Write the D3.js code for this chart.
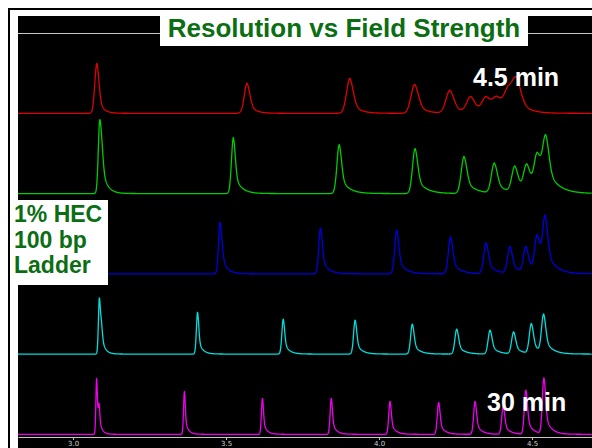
<!DOCTYPE html>
<html>
<head>
<meta charset="utf-8">
<script src="https://cdn.jsdelivr.net/npm/d3@7/dist/d3.min.js"></script>
<style>
  html, body { margin: 0; padding: 0; background: #fff; }
  svg { display: block; }
</style>
</head>
<body>
<svg width="592" height="448"></svg>
<script>
// peak lists (time in min, height in signal units)
var runs = ['4.5 min', 'r2', 'r3', 'r4', '30 min'];
var redTimes = [3.078, 3.569, 3.905, 4.117, 4.232, 4.300, 4.350, 4.385, 4.422, 4.450];
var redHeights = [50, 30, 35, 29, 23, 16, 15, 14, 21, 30];
var greenTimes = [3.087, 3.095, 3.524, 3.870, 4.118, 4.278, 4.377, 4.444, 4.483, 4.517, 4.545];
var greenHeights = [68, 24, 56, 49, 45, 37, 30, 26, 26, 35, 50];
var blueTimes = [3.480, 3.487, 3.809, 4.058, 4.234, 4.350, 4.428, 4.480, 4.517, 4.543];
var blueHeights = [48, 10, 46, 44, 37, 31, 27, 26, 36, 52];
var cyanTimes = [3.086, 3.093, 3.407, 3.687, 3.922, 4.109, 4.254, 4.363, 4.440, 4.498, 4.538];
var cyanHeights = [55, 18, 42, 35, 34, 30, 25, 24, 22, 30, 38];
var magentaTimes = [3.077, 3.085, 3.364, 3.619, 3.844, 4.036, 4.195, 4.314, 4.406, 4.480, 4.539];
var magentaHeights = [56, 22, 43, 36, 36, 33, 32, 33, 28, 44, 56];
var xTicks = [3.0, 3.5, 4.0, 4.5];

var traces = [
  {times: redTimes, heights: redHeights, color: '#e00000', sigma: 0.0065, tau: 0.014},
  {times: greenTimes, heights: greenHeights, color: '#00cc00', sigma: 0.0045, tau: 0.015},
  {times: blueTimes, heights: blueHeights, color: '#0000dd', sigma: 0.0036, tau: 0.012},
  {times: cyanTimes, heights: cyanHeights, color: '#00dddd', sigma: 0.003, tau: 0.010},
  {times: magentaTimes, heights: magentaHeights, color: '#ee00ee', sigma: 0.0023, tau: 0.008}
];

var svg = d3.select('svg');
var W = 592, H = 448;
var plot = {left: 18, top: 16, right: 592, bottom: 448};

var x = d3.scaleLinear().domain([2.82, 4.696]).range([plot.left, plot.right]);
var base = d3.scalePoint().domain(d3.range(traces.length)).range([113.3, 434.3]);
var y = d3.scaleLinear().domain([0, 80]).range([0, 80]);

// outer frame
svg.append('rect').attr('x', 9).attr('y', 9).attr('width', W).attr('height', H)
    .attr('fill', 'none').attr('stroke', '#000').attr('stroke-width', 2);

svg.append('rect')
    .attr('x', plot.left).attr('y', plot.top)
    .attr('width', plot.right - plot.left).attr('height', plot.bottom - plot.top)
    .attr('fill', '#000');

svg.append('line')
    .attr('x1', plot.left).attr('x2', plot.right)
    .attr('y1', 33.5).attr('y2', 33.5)
    .attr('stroke', '#c8c8c8').attr('stroke-width', 1);

// peak shape: gaussian front, exponential tail
var peak = function(t, t0, h, s, tau) {
  var k = Math.pow(t0 / 3, 2);
  s = s * k; tau = tau * k;
  var dt = t - t0;
  if (dt < 0) return h * Math.exp(-0.5 * dt * dt / (s * s));
  return h * (0.6 * Math.exp(-0.5 * dt * dt / (s * s)) + 0.4 * Math.exp(-dt / tau));
};

var grid = d3.range(x.domain()[0], x.domain()[1], 0.0008);

traces.forEach(function(tr, i) {
  var pts = grid.map(function(t) {
    var v = 0;
    tr.times.forEach(function(t0, j) { v += peak(t, t0, tr.heights[j], tr.sigma, tr.tau); });
    return [t, v];
  });
  var line = d3.line()
      .x(function(d) { return x(d[0]); })
      .y(function(d) { return base(i) - y(d[1]); });
  svg.append('path')
      .datum(pts)
      .attr('d', line)
      .attr('fill', 'none')
      .attr('stroke', tr.color)
      .attr('stroke-width', 1.3)
      .attr('stroke-linejoin', 'round');
});

// time axis
var axis = svg.append('g')
    .attr('transform', 'translate(0,437)')
    .call(d3.axisBottom(x).tickValues(xTicks).tickFormat(d3.format('.1f')).tickSize(3).tickSizeOuter(0));
axis.select('.domain').attr('stroke', '#c8c8c8');
axis.selectAll('.tick line').attr('stroke', '#c8c8c8');
axis.selectAll('.tick text')
    .attr('fill', '#d0d0d0')
    .attr('y', 4)
    .style('font-family', 'DejaVu Sans, sans-serif')
    .style('font-size', '7px');

// title
svg.append('rect').attr('x', 160).attr('y', 14).attr('width', 368).attr('height', 32).attr('fill', '#fff');
svg.append('text')
    .attr('x', 344).attr('y', 37)
    .attr('text-anchor', 'middle')
    .style('font-family', 'Liberation Sans, Arial, sans-serif')
    .style('font-weight', 'bold')
    .style('font-size', '26px')
    .attr('fill', '#0b6e13')
    .text('Resolution vs Field Strength');

// sample label
svg.append('rect').attr('x', 11).attr('y', 200).attr('width', 97).attr('height', 85).attr('fill', '#fff');
var labelLines = ['1% HEC', '100 bp', 'Ladder'];
svg.selectAll('.lbl')
    .data(labelLines)
    .enter().append('text')
    .attr('class', 'lbl')
    .attr('x', 14)
    .attr('y', function(d, i) { return 222 + i * 25.5; })
    .style('font-family', 'Liberation Sans, Arial, sans-serif')
    .style('font-weight', 'bold')
    .style('font-size', '23px')
    .attr('fill', '#0b6e13')
    .text(function(d) { return d; });

// run time labels
svg.append('text').attr('x', 473).attr('y', 86)
    .style('font-family', 'Liberation Sans, Arial, sans-serif')
    .style('font-weight', 'bold').style('font-size', '25px')
    .attr('fill', '#fff').text(runs[0]);
svg.append('text').attr('x', 487).attr('y', 411)
    .style('font-family', 'Liberation Sans, Arial, sans-serif')
    .style('font-weight', 'bold').style('font-size', '25px')
    .attr('fill', '#fff').text(runs[4]);
</script>
</body>
</html>
